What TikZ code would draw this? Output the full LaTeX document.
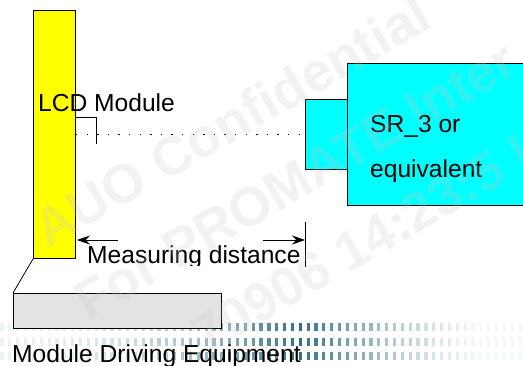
\documentclass[tikz,border=0pt]{standalone}
\usepackage{fontspec}
\setmainfont{Liberation Sans}
\usetikzlibrary{arrows.meta}
\definecolor{teal1}{RGB}{15,85,110}
\definecolor{wm}{RGB}{200,200,200}
\definecolor{cyanbox}{RGB}{0,255,255}
\definecolor{yellowbox}{RGB}{255,255,0}
\tikzset{
  box/.style={draw=black,line width=0.9pt,inner sep=0pt,anchor=north west},
  lbl/.style={inner sep=0pt,anchor=base west,font=\fontsize{24.6pt}{26pt}\selectfont,text=black},
  wmark/.style={inner sep=0pt,rotate=30,anchor=base west,text=wm,text opacity=0.24,font=\bfseries\fontsize{54pt}{56pt}\selectfont},
  conn/.style={draw=black,line width=0.8pt},
  arr/.style={conn,-{Stealth[length=13pt,width=9pt]}}
}
\begin{document}
\begin{tikzpicture}[x=1pt,y=-1pt]
\useasboundingbox (0,0) rectangle (523,366);
\clip (0,0) rectangle (523,366);
% footer band
\foreach \r in {327,342,356}{
  \foreach \i in {0,...,66}{
    \pgfmathsetmacro{\xx}{\i*7.85+2}
    \pgfmathsetmacro{\am}{\xx<300 ? 8+77*pow(\xx/300,2.2) : max(4,85*pow((523-\xx)/223,1.8))}
    \fill[teal1!\am!white] (\xx-1.6,\r-4) rectangle (\xx+1.6,\r+4);
  }
}
% shapes
\node[box,fill=yellowbox,minimum width=42pt,minimum height=248pt] (lcd) at (33,10) {};
\node[box,fill=black!11,minimum width=208pt,minimum height=35pt] (equip) at (13,293) {};
\node[box,fill=cyanbox,minimum width=190pt,minimum height=142pt] (sr) at (347,63) {};
\node[box,fill=cyanbox,minimum width=42pt,minimum height=70pt] (head) at (305,99) {};
\draw[conn] (lcd.south west) -- (equip.north west);
% labels
\node[lbl] (lcdl) at (38,112) {LCD Module};
\node[lbl] (sr1) at (370,133) {SR\_3 or};
\node[lbl] (sr2) at (370,178) {equivalent};
\node[lbl] (eq) at (12,363) {Module Driving Equipment};
\begin{scope}
\clip (80,240) rectangle (305,266);
\node[lbl] (md) at (87,264) {Measuring distance};
\end{scope}
% connectors
\coordinate (dotend) at (head.west);
\draw[black,line width=1.1pt,dash pattern=on 1.5pt off 9.1pt] (lcd.east |- dotend) -- ([xshift=-3pt]dotend);
\coordinate (lead1) at (75,117);
\coordinate (lead2) at (96,117);
\coordinate (lead3) at (96,144);
\draw[conn] (lead1) -- (lead2) -- (lead3);
\coordinate (ta) at (118,240);
\coordinate (tb) at (77,240);
\coordinate (tc) at (263,240);
\coordinate (td) at (305,240);
\draw[arr] (ta) -- (tb);
\draw[arr] (tc) -- (td);
\coordinate (v1) at (305,222);
\coordinate (v2) at (305,267);
\draw[conn] (v1) -- (v2);
% watermark
\node[wmark] (w1) at (47,250) {AUO Confidential};
\node[wmark] (w2) at (88,322) {For PROMATE Inter};
\node[wmark] (w3) at (205,356) {70906 14:23:5 I};
\end{tikzpicture}
\end{document}
